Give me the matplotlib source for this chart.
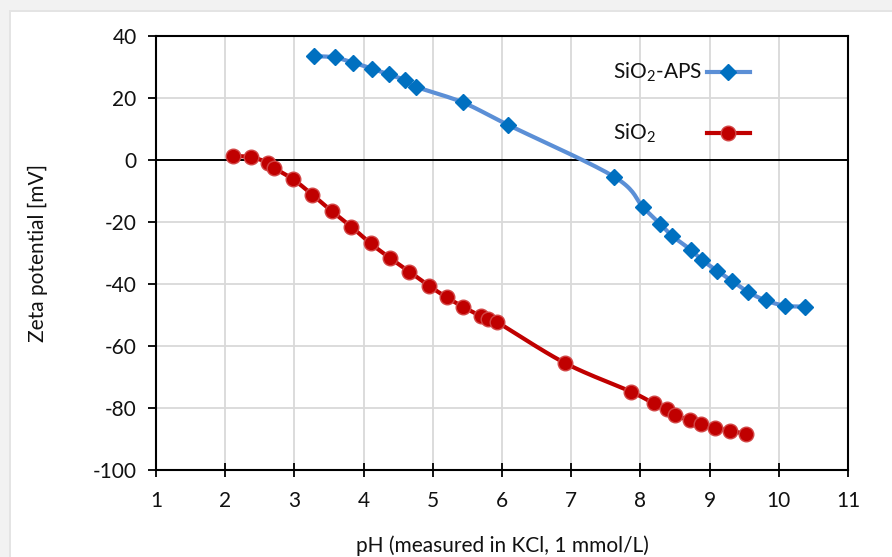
import numpy as np
import matplotlib
matplotlib.use("Agg")
import matplotlib.pyplot as plt
from matplotlib.patches import Rectangle

plt.rcParams['font.family'] = ['Lato', 'DejaVu Sans']
plt.rcParams['mathtext.fontset'] = 'custom'
plt.rcParams['mathtext.rm'] = 'Lato'
plt.rcParams['mathtext.it'] = 'Lato:italic'
plt.rcParams['axes.unicode_minus'] = False

# Data
aps_ph = [3.29, 3.58, 3.85, 4.12, 4.36, 4.60, 4.76, 5.43, 6.09, 7.62, 8.04,
          8.29, 8.46, 8.73, 8.89, 9.11, 9.33, 9.56, 9.81, 10.09, 10.38]
aps_zeta = [33.5, 33.1, 31.4, 29.5, 27.6, 25.8, 23.6, 18.6, 11.3, -5.4, -15.3,
            -20.7, -24.5, -29.0, -32.3, -35.7, -39.1, -42.6, -45.3, -47.0, -47.3]

sio2_ph = [2.11, 2.38, 2.62, 2.70, 2.98, 3.26, 3.54, 3.82, 4.10, 4.38, 4.66,
           4.94, 5.20, 5.44, 5.69, 5.80, 5.93, 6.91, 7.86, 8.19, 8.38, 8.50,
           8.71, 8.87, 9.08, 9.30, 9.52]
sio2_zeta = [1.3, 0.9, -0.9, -2.5, -6.2, -11.2, -16.5, -21.5, -26.9, -31.6, -36.0,
             -40.5, -44.3, -47.4, -50.3, -51.2, -52.3, -65.5, -74.7, -78.5, -80.4, -82.4,
             -83.9, -85.1, -86.4, -87.4, -88.3]

series_labels = ['SiO$_2$-APS', 'SiO$_2$']
x_ticks = list(range(1, 12))
y_ticks = list(range(-100, 41, 20))


def smooth(xs, ys, n=20):
    p = np.column_stack([xs, ys]).astype(float)
    out = [p[0]]
    for i in range(len(p) - 1):
        p0 = p[i - 1] if i > 0 else p[i]
        p1 = p[i]
        p2 = p[i + 1]
        p3 = p[i + 2] if i + 2 < len(p) else p[i + 1]
        c1 = p1 + (p2 - p0) / 6.0
        c2 = p2 - (p3 - p1) / 6.0
        t = np.linspace(0, 1, n)[1:, None]
        seg = ((1 - t) ** 3) * p1 + 3 * ((1 - t) ** 2) * t * c1 + 3 * (1 - t) * t ** 2 * c2 + t ** 3 * p2
        out.extend(seg)
    out = np.array(out)
    return out[:, 0], out[:, 1]


W, H = 892, 557
FS = 15
fig = plt.figure(figsize=(W / 100, H / 100), dpi=100)
fig.patch.set_facecolor('#f2f2f2')
bg = fig.add_axes([0, 0, 1, 1], zorder=-10)
bg.set_axis_off()
bg.set_xlim(0, 1)
bg.set_ylim(0, 1)
bg.add_patch(Rectangle((9 / W, 0), 1, 1 - 10 / H, facecolor='#e4e4e4', edgecolor='none'))
bg.add_patch(Rectangle((11 / W, 0), 1, 1 - 12 / H, facecolor='white', edgecolor='none'))

ax = fig.add_axes([156 / W, 1 - 470 / H, (848 - 156) / W, (470 - 36) / H])
ax.patch.set_alpha(0)
ax.set_xlim(1, 11)
ax.set_ylim(-100, 40)
ax.set_xticks(x_ticks)
ax.set_yticks(y_ticks)
ax.grid(True, color='#d9d9d9', lw=1.3, zorder=0)
ax.set_axisbelow(True)
for s in ax.spines.values():
    s.set_linewidth(1.5)
    s.set_color('black')
ax.axhline(0, color='black', lw=1.4, zorder=1)

ax.tick_params(axis='y', direction='out', length=6, width=1.3, labelsize=FS, pad=8,
               labelcolor='#111111')
ax.tick_params(axis='x', direction='inout', length=10, width=1.3, labelsize=FS, pad=10,
               labelcolor='#111111')

styles = [
    dict(line='#5b8fd6', marker='D', ms=8.5, mfc='#0070c0', mec='#0070c0', mew=1.0),
    dict(line='#c00000', marker='o', ms=10.5, mfc='#c00000', mec='#d24545', mew=1.0),
]
data = [(aps_ph, aps_zeta), (sio2_ph, sio2_zeta)]
leg_y = [0.917, 0.776]

for (xs, ys), st, lab, ly in zip(data, styles, series_labels, leg_y):
    sx, sy = smooth(xs, ys)
    ax.plot(sx, sy, color=st['line'], lw=3, zorder=3, solid_capstyle='round')
    ax.plot(xs, ys, ls='none', marker=st['marker'], ms=st['ms'], mfc=st['mfc'],
            mec=st['mec'], mew=st['mew'], zorder=4)
    # legend entry (Excel style: text left-aligned, then handle)
    ax.plot([0.796, 0.858], [ly, ly], transform=ax.transAxes, color=st['line'], lw=3,
            zorder=5, clip_on=False)
    ax.plot([0.827], [ly], transform=ax.transAxes, ls='none', marker=st['marker'],
            ms=st['ms'], mfc=st['mfc'], mec=st['mec'], mew=st['mew'], zorder=6, clip_on=False)
    ax.text(0.661, ly, lab, transform=ax.transAxes, fontsize=FS, ha='left', va='center',
            color='#111111', zorder=6)

ax.set_xlabel('pH (measured in KCl, 1 mmol/L)', fontsize=FS, labelpad=18, color='#111111')
ax.set_ylabel('Zeta potential [mV]', fontsize=FS, labelpad=32, color='#111111')

fig.savefig('out.png', dpi=100, facecolor=fig.get_facecolor())
